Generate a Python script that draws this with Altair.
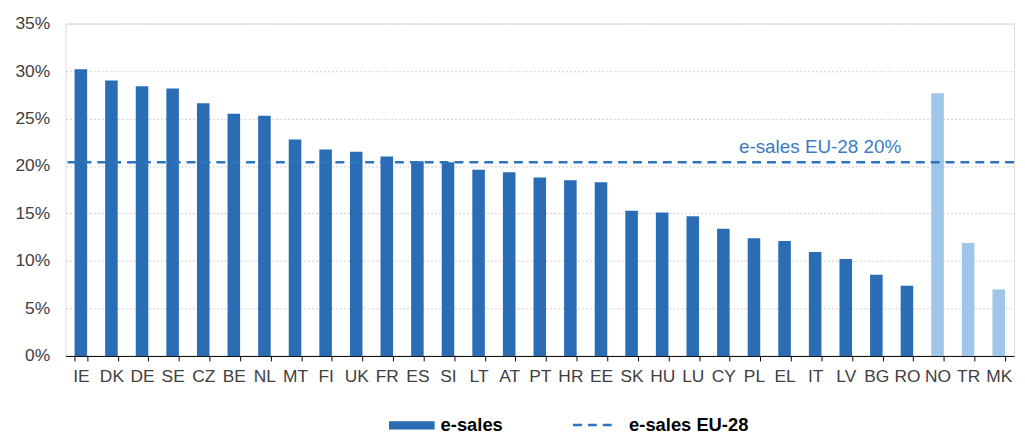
import altair as alt
import pandas as pd

countries = ["IE", "DK", "DE", "SE", "CZ", "BE", "NL", "MT", "FI", "UK", "FR",
             "ES", "SI", "LT", "AT", "PT", "HR", "EE", "SK", "HU", "LU", "CY",
             "PL", "EL", "IT", "LV", "BG", "RO", "NO", "TR", "MK"]
values = [30.2, 29.0, 28.4, 28.15, 26.6, 25.5, 25.3, 22.8, 21.75, 21.5, 21.0,
          20.5, 20.4, 19.6, 19.35, 18.8, 18.5, 18.3, 15.3, 15.1, 14.7, 13.4,
          12.4, 12.1, 10.95, 10.2, 8.55, 7.4, 27.65, 11.9, 7.0]
groups = ["e-sales"] * 28 + ["non-EU"] * 3
eu_avg = 20.4
eu_label = "e-sales EU-28 20%"
y_ticks = [0, 5, 10, 15, 20, 25, 30, 35]

FONT = "Liberation Sans"
DARK = "#2a6db4"
LIGHT = "#9fc5e8"

bars_df = pd.DataFrame({"country": countries, "value": values, "group": groups})
eu_df = pd.DataFrame({"series": ["e-sales EU-28"], "value": [eu_avg], "label": [eu_label]})

x_enc = alt.X(
    "country:N",
    sort=countries,
    title=None,
    scale=alt.Scale(paddingInner=0.59, paddingOuter=0.295),
    axis=alt.Axis(
        labelAngle=0, labelFontSize=17.5, labelFont=FONT, labelColor="#404040",
        labelPadding=7, domainColor="#000000", domainWidth=1,
        tickColor="#000000", tickSize=5, tickBand="extent", grid=False,
    ),
)

y_scale = alt.Scale(domain=[0, 35], nice=False)

bars = alt.Chart(bars_df).mark_bar().encode(
    x=x_enc,
    y=alt.Y(
        "value:Q",
        scale=y_scale,
        title=None,
        axis=alt.Axis(
            values=y_ticks, labelExpr="datum.value + '%'", labelFontSize=17.5,
            labelFont=FONT, labelColor="#404040", labelPadding=16,
            domain=False, ticks=False, grid=True, gridColor="#cccccc",
            gridDash=[2, 2], gridWidth=1,
        ),
    ),
    color=alt.Color(
        "group:N",
        scale=alt.Scale(domain=["e-sales", "non-EU"], range=[DARK, LIGHT]),
        legend=alt.Legend(
            values=["e-sales"], title=None, orient="none",
            legendX=326, legendY=382,
            symbolType="M-1,-0.18H1V0.18H-1Z", symbolSize=2116,
            symbolStrokeWidth=0, symbolOpacity=1,
            labelFontSize=18.5, labelFontWeight="bold", labelFont=FONT,
            labelColor="#000000", labelOffset=6,
        ),
    ),
)

rule = alt.Chart(eu_df).mark_rule(strokeWidth=2.5, color="#2e75c0").encode(
    y=alt.Y("value:Q", scale=y_scale),
    strokeDash=alt.StrokeDash(
        "series:N",
        scale=alt.Scale(domain=["e-sales EU-28"], range=[[9, 6]]),
        legend=alt.Legend(
            title=None, orient="none", legendX=510, legendY=382,
            symbolType="stroke", symbolSize=1764, symbolStrokeWidth=2.5,
            symbolStrokeColor="#2e75c0",
            labelFontSize=18.5, labelFontWeight="bold", labelFont=FONT,
            labelColor="#000000", labelOffset=13,
        ),
    ),
)

text = alt.Chart(eu_df).mark_text(
    fontSize=19, font=FONT, color="#3a7cc4", dy=-15, dx=5,
    baseline="middle", align="center"
).encode(
    x=alt.datum("IT"),
    y=alt.Y("value:Q", scale=y_scale),
    text="label:N",
)

chart = alt.layer(bars, rule, text).properties(
    width=956,
    height=335,
    padding={"left": 58, "top": 14, "right": 3, "bottom": 78},
    autosize=alt.AutoSizeParams(type="none"),
).configure_view(stroke=None).configure(background="white")

chart.save("out.html", embed_options={"renderer": "svg", "actions": False})
